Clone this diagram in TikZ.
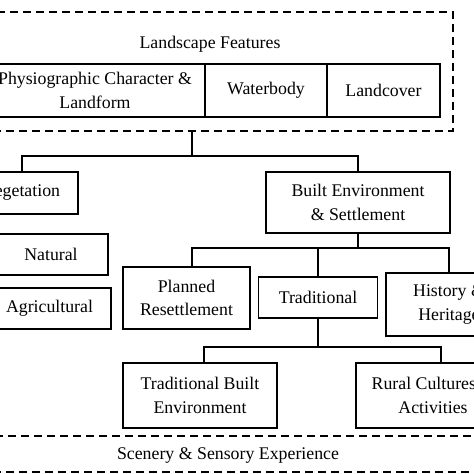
\documentclass[tikz,border=0pt]{standalone}
\usepackage{fontspec}
\setmainfont{Liberation Serif}
\usetikzlibrary{calc}

\tikzset{
  box/.style={draw, line width=1.3pt, align=center, inner sep=0pt},
  dashbox/.style={draw, line width=1.3pt, dash pattern=on 8pt off 5pt, inner sep=0pt},
  link/.style={line width=1.3pt}
}

\begin{document}
\begin{tikzpicture}[x=1pt, y=-1pt, font=\fontsize{17.8}{23.5}\selectfont]
  \useasboundingbox (0,0) rectangle (474,474);
  \clip (0,0) rectangle (474,474);

  \node [dashbox, minimum width=473, minimum height=119] (lfbox) at (216.5,71.5) {};
  \node (lf) at (210,44) {Landscape Features};
  \node [box, minimum width=220, minimum height=53] (phys)  at (95,90.5)    {Physiographic Character \&\\Landform};
  \node [box, minimum width=122, minimum height=53] (water) at (266,90.5)   {Waterbody};
  \node [box, minimum width=113, minimum height=53] (cover) at (383.5,90.5) {Landcover};

  \node [box, minimum width=112, minimum height=42] (veg)  at (22,193)    {Vegetation};
  \node [box, minimum width=184, minimum height=61] (be)   at (358,202.5) {Built Environment\\\& Settlement};
  \node [box, minimum width=114, minimum height=41] (nat)  at (51,254.5)  {Natural};
  \node [box, minimum width=123, minimum height=41] (agri) at (49.5,308.5) {Agricultural};

  \node [box, minimum width=127, minimum height=62] (plan) at (186.5,298) {Planned\\Resettlement};
  \node [box, minimum width=119, minimum height=41] (trad) at (318,297.5) {Traditional};
  \node [box, minimum width=126, minimum height=63] (hist) at (449,304.5) {History \&\\Heritage};

  \node [box, minimum width=154, minimum height=65] (tbe)   at (200,395.5) {Traditional Built\\Environment};
  \node [box, minimum width=154, minimum height=65] (rural) at (433,395.5) {Rural Cultures \&\\Activities};

  \node [dashbox, minimum width=520, minimum height=36] (sens) at (240,454) {};
  \node (se) at (228,455) {Scenery \& Sensory Experience};

  \coordinate (j1) at (192,156);
  \coordinate (j2) at (358,248);
  \coordinate (j3) at (318,347);

  \draw [link] (lfbox.south -| j1) -- (j1);
  \draw [link] (veg.north) |- (j1) -| (be.north);
  \draw [link] (be.south) -- (j2);
  \draw [link] (plan.north -| j1) |- (j2) -| (hist.north);
  \draw [link] (trad.north) -- (trad.north |- j2);
  \draw [link] (trad.south) -- (j3);
  \draw [link] ([xshift=4pt]tbe.north) |- (j3) -| ([xshift=8pt]rural.north);
\end{tikzpicture}
\end{document}
